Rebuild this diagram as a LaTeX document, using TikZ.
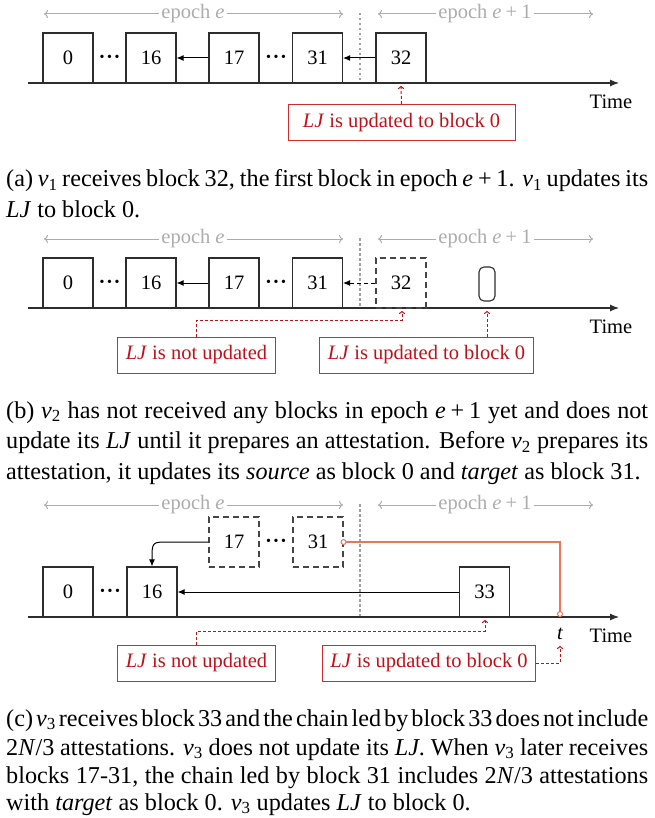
\documentclass[tikz,border=0pt]{standalone}
\usepackage{fontspec}
\setmainfont{Liberation Serif}
\usetikzlibrary{arrows.meta}
\definecolor{epgray}{RGB}{172,172,172}
\definecolor{dotgray}{RGB}{160,160,160}
\definecolor{blkc}{RGB}{45,45,45}
\definecolor{dashc}{RGB}{70,70,70}
\definecolor{redline}{RGB}{205,45,45}
\definecolor{redtext}{RGB}{192,16,24}
\definecolor{orng}{RGB}{236,118,92}
\newcommand\dfont{\fontsize{20.5}{24}\selectfont}
\newcommand\cfont{\fontsize{24.2}{30.5}\selectfont\spaceskip=.25em plus .3em minus .14em\relax}
\newcommand\vsub[1]{\textit{v}\textsubscript{#1}}
\newcommand\eplus{\textit{e}\hspace{.2em}+\hspace{.2em}1}
\newcommand\bdots{{\fontsize{14}{14}\selectfont\textbullet\hspace{2.6pt}\textbullet\hspace{2.6pt}\textbullet}}
\tikzset{
  blk/.style={draw=blkc, line width=1.1pt, minimum width=50pt, minimum height=50pt, inner sep=0pt, font=\dfont},
  dblk/.style={blk, draw=dashc, dash pattern=on 6pt off 4pt},
  rbox/.style={draw=redline, line width=1pt, text=redtext, font=\dfont, inner xsep=8pt, minimum height=36pt},
  eplabel/.style={text=epgray, font=\dfont, inner xsep=2pt},
  eparrow/.style={draw=epgray, line width=1pt, -{To[length=4pt,width=8pt]}},
  sep/.style={draw=dotgray, line width=1.4pt, dash pattern=on 2.5pt off 2.5pt},
  timeline/.style={draw=blkc, line width=1.1pt, -{Latex[length=9pt,width=7pt]}},
  link/.style={draw=black, line width=1pt, -{Latex[length=7pt,width=6pt]}},
  rarrow/.style={draw=redtext, line width=1pt, dash pattern=on 3pt off 2pt, -{To[length=3pt,width=6pt]}},
  dotsn/.style={inner sep=0pt},
  lbl/.style={font=\dfont, inner sep=1pt},
  capline/.style={anchor=base west, inner sep=0pt, font=\cfont},
  ocirc/.style={circle, draw=orng, line width=1pt, fill=white, inner sep=0pt, minimum size=5pt},
}
\begin{document}
\begin{tikzpicture}[x=1pt,y=-1pt]
\useasboundingbox (0,0) rectangle (654,818);
% ================= panel (a)
\node[eplabel] (ea1) at (193,14) {epoch \textit{e}};
\coordinate (ea1l) at (44,14); \coordinate (ea1r) at (343,14);
\draw[eparrow] (ea1.west) -- (ea1l);
\draw[eparrow] (ea1.east) -- (ea1r);
\node[eplabel] (eb1) at (485,14) {epoch \eplus};
\coordinate (eb1l) at (378,14); \coordinate (eb1r) at (593,14);
\draw[eparrow] (eb1.west) -- (eb1l);
\draw[eparrow] (eb1.east) -- (eb1r);
\coordinate (sa1) at (360,13); \coordinate (sa2) at (360,83);
\draw[sep] (sa1) -- (sa2);
\coordinate (ta0) at (28,83); \coordinate (ta1) at (619,83);
\draw[timeline] (ta0) -- (ta1);
\node[blk] (a0) at (68,58) {0};
\node[blk] (a16) at (151,58) {16};
\node[blk] (a17) at (234,58) {17};
\node[blk] (a31) at (317.5,58) {31};
\node[blk] (a32) at (401,58) {32};
\node[dotsn] (ad1) at (109.5,58) {\bdots};
\node[dotsn] (ad2) at (276,58) {\bdots};
\draw[link] (a17.west) -- (a16.east);
\draw[link] (a32.west) -- (a31.east);
\node[lbl] (timea) at (611,102) {Time};
\node[rbox, minimum width=227pt] (ra) at (401.5,122.5) {\textit{LJ} is updated to block 0};
\coordinate (ra1) at (401,86);
\draw[rarrow] (ra.north) -- (ra1);
\node[capline] (capa1) at (6,187) {\hbox to 642pt{(a) \vsub{1} receives block 32, the first block in epoch \eplus. \vsub{1} updates its}};
\node[capline] (capa2) at (6,217.5) {\textit{LJ} to block 0.};
% ================= panel (b)
\node[eplabel] (ea2) at (193,239) {epoch \textit{e}};
\coordinate (ea2l) at (44,239); \coordinate (ea2r) at (343,239);
\draw[eparrow] (ea2.west) -- (ea2l);
\draw[eparrow] (ea2.east) -- (ea2r);
\node[eplabel] (eb2) at (485,239) {epoch \eplus};
\coordinate (eb2l) at (378,239); \coordinate (eb2r) at (593,239);
\draw[eparrow] (eb2.west) -- (eb2l);
\draw[eparrow] (eb2.east) -- (eb2r);
\coordinate (sb1) at (360,238); \coordinate (sb2) at (360,308);
\draw[sep] (sb1) -- (sb2);
\coordinate (tb0) at (28,308); \coordinate (tb1) at (619,308);
\draw[timeline] (tb0) -- (tb1);
\node[blk] (b0) at (68,283) {0};
\node[blk] (b16) at (151,283) {16};
\node[blk] (b17) at (234,283) {17};
\node[blk] (b31) at (317.5,283) {31};
\node[dblk] (b32) at (401,283) {32};
\node[dotsn] (bd1) at (109.5,283) {\bdots};
\node[dotsn] (bd2) at (276,283) {\bdots};
\draw[link] (b17.west) -- (b16.east);
\draw[link, dash pattern=on 4pt off 3pt] (b32.west) -- (b31.east);
\node[draw=blkc, line width=1.1pt, rounded corners=5pt, minimum width=16pt, minimum height=34pt, inner sep=0pt] (bp) at (487,284) {};
\node[lbl] (timeb) at (611,327) {Time};
\node[rbox] (rb1) at (196.5,355) {\textit{LJ} is not updated};
\node[rbox] (rb2) at (426.5,355) {\textit{LJ} is updated to block 0};
\coordinate (bk1) at (402,320); \coordinate (bt1) at (402,311);
\draw[rarrow] (rb1.north) |- (bk1) -- (bt1);
\coordinate (bt2) at (487,311);
\draw[rarrow] (rb2.north -| bt2) -- (bt2);
\node[capline] (capb1) at (6,418) {\hbox to 642pt{(b) \vsub{2} has not received any blocks in epoch \eplus\ yet and does not}};
\node[capline] (capb2) at (6,448.5) {\hbox to 642pt{update its \textit{LJ} until it prepares an attestation. Before \vsub{2} prepares its}};
\node[capline] (capb3) at (6,479) {attestation, it updates its \textit{source} as block 0 and \textit{target} as block 31.};
% ================= panel (c)
\node[eplabel] (ea3) at (193,505) {epoch \textit{e}};
\coordinate (ea3l) at (44,505); \coordinate (ea3r) at (343,505);
\draw[eparrow] (ea3.west) -- (ea3l);
\draw[eparrow] (ea3.east) -- (ea3r);
\node[eplabel] (eb3) at (485,505) {epoch \eplus};
\coordinate (eb3l) at (378,505); \coordinate (eb3r) at (593,505);
\draw[eparrow] (eb3.west) -- (eb3l);
\draw[eparrow] (eb3.east) -- (eb3r);
\coordinate (sc1) at (360,504); \coordinate (sc2) at (360,617);
\draw[sep] (sc1) -- (sc2);
\coordinate (tc0) at (28,617); \coordinate (tc1) at (619,617);
\draw[timeline] (tc0) -- (tc1);
\node[dblk] (c17) at (234,542) {17};
\node[dblk] (c31) at (318,542) {31};
\node[dotsn] (cd2) at (276,542) {\bdots};
\node[blk] (c0) at (68,592) {0};
\node[blk] (c16) at (152,592) {16};
\node[blk] (c33) at (484.5,592) {33};
\node[dotsn] (cd1) at (110,592) {\bdots};
\draw[link] (c33.west) -- (c16.east);
\coordinate (ck) at (168,542);
\draw[link] (c17.west) -- (ck) .. controls (152,542) .. (c16.north);
\coordinate (ck2) at (560,542); \coordinate (ct) at (560,614);
\draw[draw=orng, line width=1.2pt] (c31.east) -- (ck2) -- (ct);
\node[ocirc] (oc1) at (c31.east) {};
\node[ocirc] (oc2) at (ct) {};
\node[font=\dfont\itshape, inner sep=1pt] (tt) at (560,634) {t};
\node[lbl] (timec) at (611,636) {Time};
\node[rbox] (rc1) at (196.5,663) {\textit{LJ} is not updated};
\node[rbox] (rc2) at (429,663) {\textit{LJ} is updated to block 0};
\coordinate (ck3) at (485,631); \coordinate (ct3) at (485,620);
\draw[rarrow] (rc1.north) |- (ck3) -- (ct3);
\coordinate (ck4) at (560,663); \coordinate (ct4) at (560,646);
\draw[rarrow] (rc2.east) -- (ck4) -- (ct4);
\node[capline] (capc1) at (6,726) {\hbox to 642pt{(c) \vsub{3} receives block 33 and the chain led by block 33 does not include}};
\node[capline] (capc2) at (6,755) {\hbox to 642pt{2\textit{N}/3 attestations. \vsub{3} does not update its \textit{LJ}. When \vsub{3} later receives}};
\node[capline] (capc3) at (6,783.5) {\hbox to 642pt{blocks 17-31, the chain led by block 31 includes 2\textit{N}/3 attestations}};
\node[capline] (capc4) at (6,810) {with \textit{target} as block 0. \vsub{3} updates \textit{LJ} to block 0.};
\end{tikzpicture}
\end{document}
